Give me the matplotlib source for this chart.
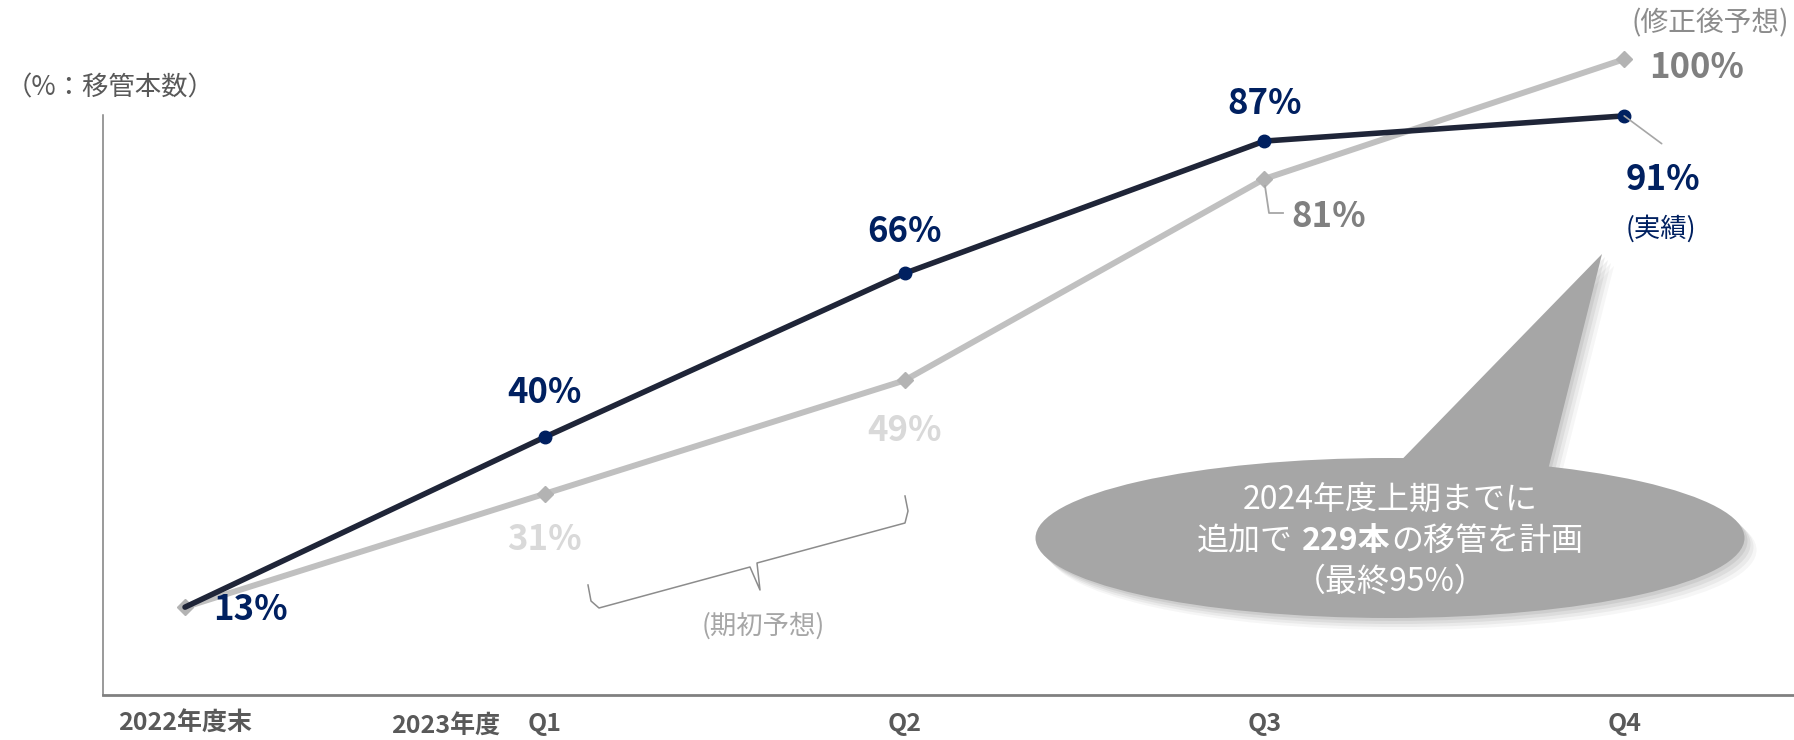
import matplotlib.pyplot as plt
from matplotlib.patches import Ellipse, Polygon
from matplotlib.lines import Line2D

plt.rcParams['font.family'] = ['Noto Sans CJK JP', 'DejaVu Sans']

# data
periods = ['2022年度末', 'Q1', 'Q2', 'Q3', 'Q4']
actual = [13, 40, 66, 87, 91]          # 実績
forecast = [13, 31, 49, 81, 100]       # 期初予想 -> 修正後予想
fiscal_label = '2023年度'
unit_label = '（%：移管本数）'
callout_lines = ['2024年度上期までに', ('追加で', '229本', 'の移管を計画'), '（最終95%）']

NAVY = '#002060'
W, H = 1794, 740


def fp(x, y):
    # full-size pixel (top-left origin) -> figure fraction
    return x / W, 1 - y / H


fig = plt.figure(figsize=(W / 100, H / 100), dpi=100)
ax = fig.add_axes([103 / W, 45 / H, 1691 / W, 695 / H])
ax.set_xlim(-0.228, 4.472)
ax.set_ylim(-0.95, 109.4)

x = range(len(periods))
ax.plot(x, forecast, '-', color='#c0c0c0', lw=4.3, zorder=2,
        marker='D', ms=8, mfc='#b3b3b3', mec='#b3b3b3', clip_on=False)
ax.plot(x, actual, '-', color='#1f2538', lw=4, zorder=3, solid_capstyle='round',
        marker='o', ms=9, mfc=NAVY, mec=NAVY, markevery=[1, 2, 3, 4], clip_on=False)

# value labels
act_off = [(47, -2), (0, 32), (0, 30), (0, 27), (28, -46)]
for i, v in enumerate(actual):
    ax.annotate('%d%%' % v, (i, v), xytext=act_off[i], textcoords='offset points',
                ha='center', va='center', fontsize=25, fontweight='bold', color=NAVY)

fc_off = [None, (0, -33), (0, -36), (46, -27), (52, -6)]
fc_col = [None, '#d9d9d9', '#d9d9d9', '#808080', '#808080']
for i, v in enumerate(forecast):
    if fc_off[i] is None:
        continue
    ax.annotate('%d%%' % v, (i, v), xytext=fc_off[i], textcoords='offset points',
                ha='center', va='center', fontsize=25, fontweight='bold', color=fc_col[i])

# leaders
ax.annotate('', xy=(4, actual[4]), xytext=(27, -20), textcoords='offset points',
            arrowprops=dict(arrowstyle='-', color='#a6a6a6', lw=1.2, shrinkA=0, shrinkB=0))
lx, ly = zip(*[fp(1265, 186), fp(1269, 213), fp(1283, 213)])
fig.add_artist(Line2D(lx, ly, color='#a6a6a6', lw=1.3, transform=fig.transFigure))

# brace for 期初予想
brace = [(588, 585), (591, 601), (599, 608), (750, 567), (760, 590),
         (757, 563), (905, 523), (908, 511), (905, 496)]
bx, by = zip(*[fp(*p) for p in brace])
fig.add_artist(Line2D(bx, by, color='#8c8c8c', lw=1.1, transform=fig.transFigure))
fig.text(*fp(763, 626), '(期初予想)', ha='center', va='center', fontsize=19, color='#a6a6a6')

fig.text(*fp(1710, 23), '(修正後予想)', ha='center', va='center', fontsize=20, color='#8c8c8c')
fig.text(*fp(1661, 229), '(実績)', ha='center', va='center', fontsize=19, color=NAVY)

# axes styling
for s in ['top', 'right']:
    ax.spines[s].set_visible(False)
ax.spines['left'].set_bounds(-0.95, 91.1)
ax.spines['left'].set_color('#7f7f7f')
ax.spines['left'].set_linewidth(1.1)
ax.spines['bottom'].set_color('#808080')
ax.spines['bottom'].set_linewidth(2)
ax.set_yticks([])
ax.set_xticks(list(x), periods)
ax.tick_params(axis='x', length=0, pad=12, labelsize=18, labelcolor='#595959')
for lbl in ax.get_xticklabels():
    lbl.set_fontweight('bold')
fig.text(*fp(446, 727), fiscal_label, ha='center', va='center', fontsize=18,
         fontweight='bold', color='#595959')
fig.text(*fp(6, 88), unit_label, ha='left', va='center', fontsize=19, color='#595959')

# callout bubble with soft shadow
cxp, cyp = 1390, 538
for k, a in [(12, 0.05), (9, 0.07), (6, 0.09), (3, 0.1)]:
    c = fp(cxp + k, cyp + k)
    fig.add_artist(Ellipse(c, 709 / W, 160 / H, color='#505050', alpha=a,
                           lw=0, transform=fig.transFigure))
    fig.add_artist(Polygon([fp(1380 + k, 480 + k), fp(1602 + k, 254 + k), fp(1545 + k, 480 + k)],
                           closed=True, color='#505050', alpha=a, lw=0,
                           transform=fig.transFigure))
fig.add_artist(Ellipse(fp(cxp, cyp), 709 / W, 160 / H, color='#a6a6a6', lw=0,
                       transform=fig.transFigure))
fig.add_artist(Polygon([fp(1380, 482), fp(1602, 254), fp(1545, 482)], closed=True,
                       color='#a6a6a6', lw=0, transform=fig.transFigure))

fs = 23
fig.text(*fp(cxp, 500), callout_lines[0], ha='center', va='center', fontsize=fs, color='white')
fig.text(*fp(cxp, 582), callout_lines[2], ha='center', va='center', fontsize=fs, color='white')

pieces = []
for s, w in zip(callout_lines[1], ['normal', 'bold', 'normal']):
    pieces.append(fig.text(0, fp(0, 541)[1], s, ha='left', va='center', fontsize=fs,
                           fontweight=w, color='white'))
fig.canvas.draw()
r = fig.canvas.get_renderer()
gap = 9
widths = [t.get_window_extent(r).width for t in pieces]
xpos = cxp - (sum(widths) + gap) / 2
for i, t in enumerate(pieces):
    t.set_x(xpos / W)
    xpos += widths[i] + (gap if i == 0 else 0)

fig.savefig('out.png', dpi=100)
